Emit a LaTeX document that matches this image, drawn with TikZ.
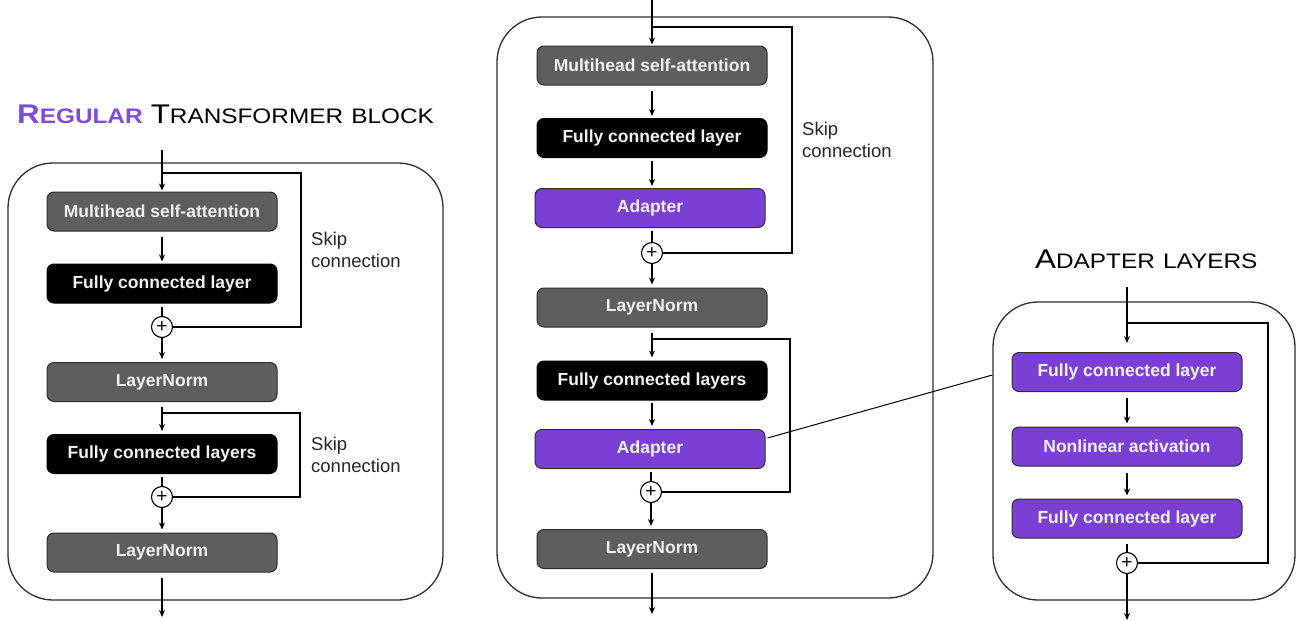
\documentclass[tikz,border=0pt]{standalone}
\usepackage{fontspec}
\setmainfont{Liberation Sans}
\usetikzlibrary{arrows.meta,calc}
\definecolor{pp}{HTML}{7A3FD3}
\definecolor{tp}{HTML}{7E4BDB}
\definecolor{gr}{HTML}{5E5E5E}
\definecolor{bd}{HTML}{2E2E2E}
\definecolor{tx}{HTML}{F2F2F2}
\newcommand{\bigsc}[2]{{\fontsize{27}{30}\selectfont #1}{\fontsize{21}{24}\selectfont #2}}
\newcommand{\scsp}{\hspace{7pt}}
\begin{document}
\begin{tikzpicture}[x=1pt,y=-1pt,
  layerbox/.style={rectangle, rounded corners=7pt, draw=bd, line width=1pt,
    minimum width=230pt, minimum height=39pt, inner sep=0pt,
    text=tx, font=\bfseries\fontsize{17.5}{20}\selectfont},
  graybox/.style={layerbox, fill=gr},
  blackbox/.style={layerbox, fill=black, draw=black},
  purplebox/.style={layerbox, fill=pp, draw=bd},
  outerbox/.style={rectangle, rounded corners=45pt, draw=bd, line width=1.3pt, inner sep=0pt},
  plusnode/.style={circle, draw=black, line width=1.1pt, fill=white, minimum size=21pt, inner sep=0pt,
    font=\fontsize{19}{19}\selectfont},
  conn/.style={line width=1.3pt, draw=black},
  arr/.style={conn, -{Stealth[length=7pt,width=6pt]}},
  skiplab/.style={align=left, anchor=west, inner sep=0pt, font=\fontsize{18.5}{22}\selectfont, text=black!85}
]
\useasboundingbox (0,0) rectangle (1299,621);

% ---------- titles ----------
\node[anchor=base west, inner sep=0pt] (t1) at (17,123)
  {\scalebox{1.16}[1]{\textcolor{tp}{\bfseries\bigsc{R}{EGULAR}}\scsp\bigsc{T}{RANSFORMER}\scsp{\fontsize{21}{24}\selectfont BLOCK}}};
\node[anchor=base west, inner sep=0pt] (t2) at (1035,268)
  {\scalebox{1.16}[1]{\bigsc{A}{DAPTER}\scsp{\fontsize{21}{24}\selectfont LAYERS}}};

% ---------- outer boxes ----------
\node[outerbox, minimum width=435pt, minimum height=437pt] (lbox) at (225.5,381.5) {};
\node[outerbox, minimum width=436pt, minimum height=581pt] (mbox) at (715,307.5) {};
\node[outerbox, minimum width=302pt, minimum height=298pt] (rbox) at (1144,451) {};

% ---------- left panel ----------
\node[graybox]  (lmha) at (162,211.5) {Multihead self-attention};
\node[blackbox] (lfc)  at (162,283.5) {Fully connected layer};
\node[plusnode] (lp1)  at (162,327) {+};
\node[graybox]  (lln1) at (162,382) {LayerNorm};
\node[blackbox] (lfcs) at (162,454) {Fully connected layers};
\node[plusnode] (lp2)  at (162,497) {+};
\node[graybox]  (lln2) at (162,552.5) {LayerNorm};
\coordinate (lin) at (162,150);
\coordinate (lout) at (162,617);
\coordinate (ls1) at (162,173);
\coordinate (ls1r) at (301,173);
\coordinate (ls2) at (162,413);
\coordinate (ls2r) at (300,413);

\draw[arr, shorten >=1pt] (lin) -- (lmha.north);
\draw[conn] (ls1) -- (ls1r) |- (lp1.east);
\draw[arr, shorten <=5pt, shorten >=2pt] (lmha.south) -- (lfc.north);
\draw[conn, shorten <=3pt] (lfc.south) -- (lp1.north);
\draw[arr, shorten >=3pt] (lp1.south) -- (lln1.north);
\draw[arr, shorten <=5pt, shorten >=3pt] (lln1.south) -- (lfcs.north);
\draw[conn] (ls2) -- (ls2r) |- (lp2.east);
\draw[conn, shorten <=3pt] (lfcs.south) -- (lp2.north);
\draw[arr, shorten >=3pt] (lp2.south) -- (lln2.north);
\draw[arr, shorten <=5pt] (lln2.south) -- (lout);
\node[skiplab] (lsk1) at (311,250) {Skip\\connection};
\node[skiplab] (lsk2) at (311,455) {Skip\\connection};

% ---------- middle panel ----------
\node[graybox]   (mmha) at (652,65.5) {Multihead self-attention};
\node[blackbox]  (mfc)  at (652,138) {Fully connected layer};
\node[purplebox] (mad1) at (650,208) {Adapter};
\node[plusnode]  (mp1)  at (652,253) {+};
\node[graybox]   (mln1) at (652,307.5) {LayerNorm};
\node[blackbox]  (mfcs) at (652,380.5) {Fully connected layers};
\node[purplebox] (mad2) at (650,449) {Adapter};
\node[plusnode]  (mp2)  at (651,492) {+};
\node[graybox]   (mln2) at (652,549) {LayerNorm};
\coordinate (min) at (652,0);
\coordinate (mout) at (652,614);
\coordinate (ms1) at (652,27);
\coordinate (ms1r) at (792,27);
\coordinate (ms2) at (652,339);
\coordinate (ms2r) at (790,339);

\draw[arr, shorten >=1pt] (min) -- (mmha.north);
\draw[conn] (ms1) -- (ms1r) |- (mp1.east);
\draw[arr, shorten <=5pt, shorten >=2pt] (mmha.south) -- (mfc.north);
\draw[arr, shorten <=3pt, shorten >=2pt] (mfc.south) -- (mad1.north -| mfc.south);
\draw[conn, shorten <=3pt] (mad1.south -| mp1.north) -- (mp1.north);
\draw[arr, shorten >=3pt] (mp1.south) -- (mln1.north);
\draw[arr, shorten <=5pt, shorten >=3pt] (mln1.south) -- (mfcs.north);
\draw[conn] (ms2) -- (ms2r) |- (mp2.east);
\draw[arr, shorten <=2pt, shorten >=3pt] (mfcs.south) -- (mad2.north -| mfcs.south);
\draw[conn, shorten <=3pt] (mad2.south -| mp2.north) -- (mp2.north);
\draw[arr, shorten >=3pt] (mp2.south) -- (mln2.north -| mp2.south);
\draw[arr, shorten <=4pt] (mln2.south) -- (mout);
\node[skiplab] (msk1) at (802,140) {Skip\\connection};

% ---------- right panel ----------
\node[purplebox] (rfc1) at (1127,372) {Fully connected layer};
\node[purplebox] (rnl)  at (1127,446.5) {Nonlinear activation};
\node[purplebox] (rfc2) at (1127,518.5) {Fully connected layer};
\node[plusnode]  (rp)   at (1127,563) {+};
\coordinate (rin) at (1127,287);
\coordinate (rout) at (1127,620);
\coordinate (rs1) at (1127,323);
\coordinate (rs1r) at (1268,323);

\draw[arr, shorten >=9pt] (rin) -- (rfc1.north);
\draw[conn] (rs1) -- (rs1r) |- (rp.east);
\draw[arr, shorten <=6pt, shorten >=3pt] (rfc1.south) -- (rnl.north);
\draw[arr, shorten <=6pt, shorten >=3pt] (rnl.south) -- (rfc2.north);
\draw[conn, shorten <=5pt] (rfc2.south) -- (rp.north);
\draw[arr] (rp.south) -- (rout);

% ---------- link from adapter to adapter layers ----------
\coordinate (lk1) at ($(mad2.east)+(2,-11)$);
\coordinate (lk2) at (rbox.west |- 0,375);
\draw[line width=1pt] (lk1) -- (lk2);
\end{tikzpicture}
\end{document}
